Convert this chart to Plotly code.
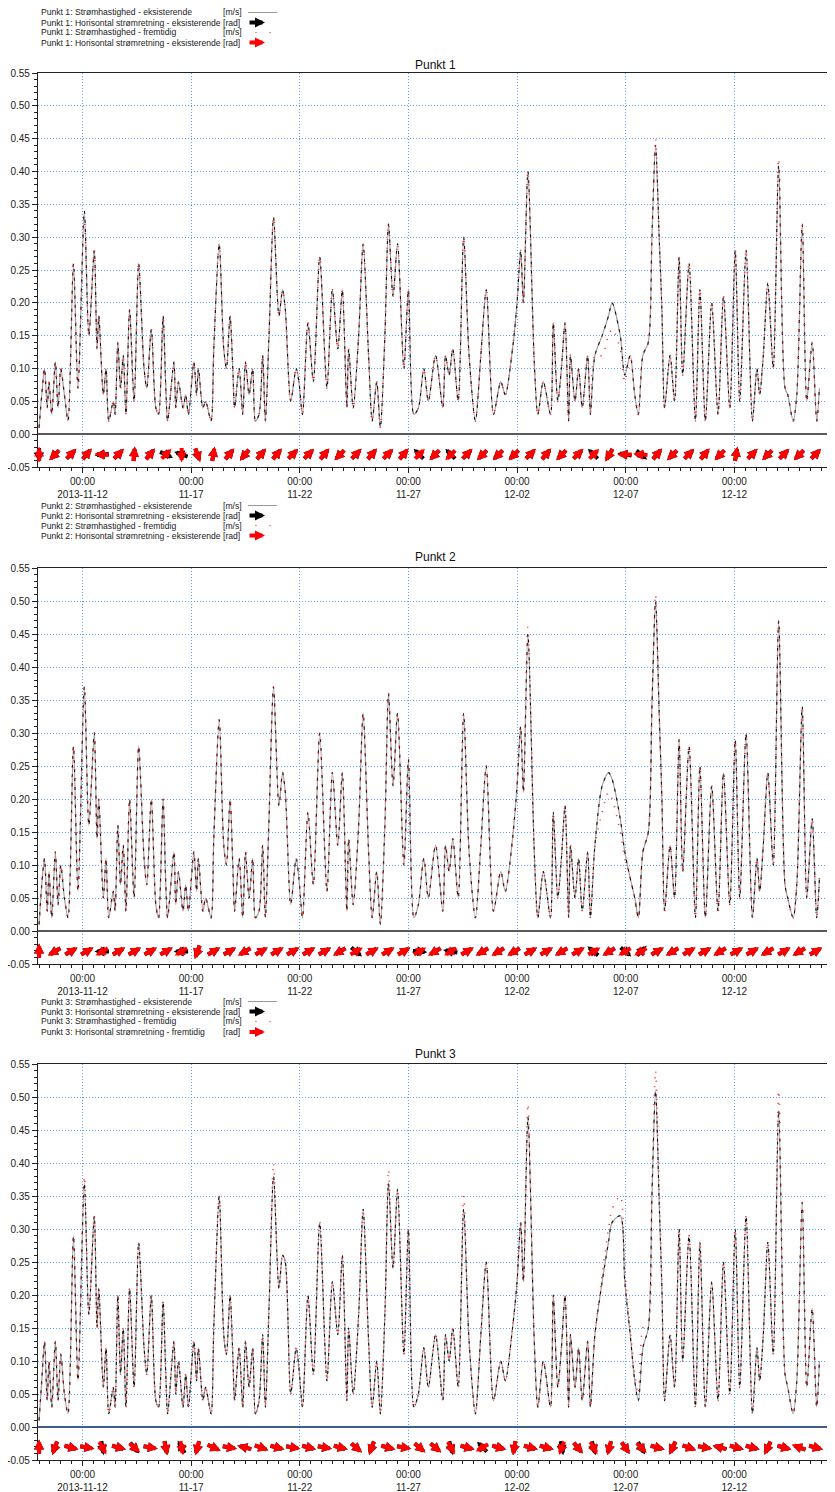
import math
import pandas as pd
import plotly.graph_objects as go

START = pd.Timestamp("2013-11-10 00:00")

# tid i timer fra 2013-11-10 00:00 (felles for alle punkter)
timer = [0, 3, 6, 9, 11, 14, 18, 21, 24, 28,
         32, 38, 43, 50, 55, 61, 64, 66, 71, 74,
         77, 82, 84, 87, 90, 93, 96, 100, 105, 110,
         116, 119, 124, 129, 132, 137, 140, 142, 149, 151,
         154, 159, 162, 165, 171, 174, 176, 181, 184, 190,
         193, 199, 204, 207, 211, 214, 216, 221, 225, 228,
         232, 236, 239, 243, 247, 250, 254, 259, 265, 269,
         272, 278, 284, 287, 291, 297, 303, 310, 318, 324,
         330, 335, 340, 342, 347, 353, 358, 364, 368, 373,
         377, 382, 386, 391, 396, 403, 408, 414, 419, 425,
         430, 438, 446, 449, 453, 457, 463, 469, 475, 482,
         488, 494, 502, 510, 515, 523, 528, 532, 535, 540,
         547, 551, 557, 565, 568, 573, 577, 581, 585, 587,
         592, 596, 600, 606, 609, 614, 622, 629, 633, 642,
         647, 653, 658, 662, 667, 673, 677, 681, 685, 688,
         691, 697, 702, 707, 711, 718, 725, 730, 736, 743,
         750, 756, 763, 769, 774, 781, 788, 793, 796, 800,
         805, 811, 817, 824, 827, 833, 837, 843, 848, 854,
         859, 862]

# Punkt 1
fart1 = [0.01, 0.06, 0.10, 0.04, 0.08, 0.03, 0.11, 0.04, 0.10, 0.06,
         0.02, 0.26, 0.07, 0.34, 0.15, 0.28, 0.13, 0.18, 0.06, 0.10,
         0.02, 0.05, 0.03, 0.14, 0.07, 0.12, 0.03, 0.19, 0.05, 0.26,
         0.10, 0.07, 0.16, 0.04, 0.03, 0.18, 0.07, 0.02, 0.11, 0.04,
         0.08, 0.04, 0.06, 0.03, 0.11, 0.06, 0.10, 0.04, 0.05, 0.02,
         0.13, 0.29, 0.13, 0.10, 0.18, 0.10, 0.04, 0.10, 0.03, 0.11,
         0.06, 0.10, 0.02, 0.03, 0.12, 0.02, 0.15, 0.33, 0.18, 0.22,
         0.19, 0.05, 0.10, 0.08, 0.03, 0.17, 0.08, 0.27, 0.07, 0.22,
         0.13, 0.22, 0.04, 0.13, 0.04, 0.15, 0.29, 0.12, 0.02, 0.08,
         0.01, 0.15, 0.32, 0.21, 0.29, 0.10, 0.22, 0.03, 0.04, 0.10,
         0.05, 0.12, 0.04, 0.12, 0.09, 0.13, 0.05, 0.30, 0.12, 0.02,
         0.12, 0.22, 0.03, 0.08, 0.06, 0.13, 0.20, 0.28, 0.20, 0.40,
         0.11, 0.03, 0.08, 0.03, 0.17, 0.05, 0.10, 0.17, 0.02, 0.12,
         0.05, 0.10, 0.04, 0.12, 0.03, 0.12, 0.15, 0.18, 0.20, 0.15,
         0.09, 0.12, 0.06, 0.03, 0.12, 0.14, 0.30, 0.44, 0.30, 0.19,
         0.04, 0.12, 0.05, 0.27, 0.09, 0.26, 0.02, 0.22, 0.02, 0.20,
         0.03, 0.21, 0.04, 0.28, 0.05, 0.28, 0.02, 0.10, 0.06, 0.12,
         0.23, 0.10, 0.41, 0.07, 0.06, 0.02, 0.06, 0.32, 0.05, 0.14,
         0.02, 0.07]
frem1 = [0.01, 0.06, 0.10, 0.04, 0.08, 0.03, 0.11, 0.04, 0.10, 0.06,
         0.02, 0.26, 0.07, 0.33, 0.15, 0.28, 0.13, 0.18, 0.06, 0.10,
         0.02, 0.05, 0.03, 0.14, 0.07, 0.12, 0.03, 0.19, 0.05, 0.26,
         0.10, 0.07, 0.16, 0.04, 0.03, 0.18, 0.07, 0.02, 0.11, 0.04,
         0.08, 0.04, 0.06, 0.03, 0.11, 0.06, 0.10, 0.04, 0.05, 0.02,
         0.13, 0.29, 0.13, 0.10, 0.18, 0.10, 0.04, 0.10, 0.03, 0.11,
         0.06, 0.10, 0.02, 0.03, 0.12, 0.02, 0.15, 0.33, 0.18, 0.22,
         0.19, 0.05, 0.10, 0.08, 0.03, 0.17, 0.08, 0.27, 0.07, 0.22,
         0.13, 0.22, 0.04, 0.13, 0.04, 0.15, 0.29, 0.12, 0.02, 0.08,
         0.01, 0.15, 0.32, 0.21, 0.29, 0.10, 0.22, 0.03, 0.04, 0.10,
         0.05, 0.12, 0.04, 0.12, 0.09, 0.13, 0.05, 0.30, 0.12, 0.02,
         0.12, 0.22, 0.03, 0.08, 0.06, 0.13, 0.20, 0.28, 0.20, 0.40,
         0.11, 0.03, 0.08, 0.03, 0.17, 0.05, 0.10, 0.17, 0.02, 0.12,
         0.05, 0.10, 0.04, 0.12, 0.03, 0.12, 0.12, 0.15, 0.16, 0.13,
         0.08, 0.12, 0.06, 0.03, 0.12, 0.14, 0.30, 0.45, 0.30, 0.19,
         0.04, 0.12, 0.05, 0.27, 0.09, 0.26, 0.02, 0.22, 0.02, 0.20,
         0.03, 0.21, 0.04, 0.28, 0.05, 0.28, 0.02, 0.10, 0.06, 0.12,
         0.23, 0.10, 0.42, 0.07, 0.06, 0.02, 0.06, 0.32, 0.05, 0.14,
         0.02, 0.07]

# Punkt 2
fart2 = [0.01, 0.07, 0.11, 0.03, 0.09, 0.02, 0.12, 0.04, 0.10, 0.05,
         0.02, 0.28, 0.06, 0.37, 0.16, 0.30, 0.14, 0.20, 0.05, 0.11,
         0.02, 0.06, 0.03, 0.16, 0.07, 0.13, 0.03, 0.20, 0.05, 0.28,
         0.11, 0.07, 0.20, 0.04, 0.02, 0.20, 0.07, 0.02, 0.12, 0.04,
         0.09, 0.03, 0.07, 0.03, 0.12, 0.06, 0.11, 0.03, 0.05, 0.02,
         0.14, 0.32, 0.13, 0.10, 0.20, 0.10, 0.03, 0.11, 0.02, 0.12,
         0.05, 0.11, 0.02, 0.03, 0.13, 0.02, 0.17, 0.37, 0.19, 0.24,
         0.21, 0.04, 0.11, 0.08, 0.02, 0.18, 0.07, 0.30, 0.06, 0.24,
         0.13, 0.24, 0.03, 0.14, 0.04, 0.16, 0.33, 0.12, 0.02, 0.09,
         0.01, 0.16, 0.36, 0.22, 0.33, 0.10, 0.26, 0.02, 0.04, 0.11,
         0.05, 0.13, 0.03, 0.13, 0.09, 0.14, 0.05, 0.33, 0.12, 0.02,
         0.13, 0.25, 0.03, 0.09, 0.06, 0.14, 0.22, 0.31, 0.21, 0.45,
         0.12, 0.02, 0.09, 0.02, 0.18, 0.05, 0.11, 0.19, 0.02, 0.13,
         0.05, 0.11, 0.03, 0.12, 0.02, 0.13, 0.22, 0.24, 0.23, 0.17,
         0.12, 0.08, 0.05, 0.02, 0.12, 0.15, 0.34, 0.50, 0.33, 0.20,
         0.03, 0.13, 0.05, 0.29, 0.09, 0.28, 0.02, 0.25, 0.02, 0.22,
         0.03, 0.24, 0.04, 0.29, 0.05, 0.30, 0.02, 0.11, 0.06, 0.13,
         0.24, 0.10, 0.47, 0.07, 0.05, 0.02, 0.07, 0.34, 0.05, 0.17,
         0.02, 0.08]
frem2 = [0.01, 0.07, 0.11, 0.03, 0.09, 0.02, 0.12, 0.04, 0.10, 0.05,
         0.02, 0.28, 0.06, 0.37, 0.16, 0.30, 0.14, 0.20, 0.05, 0.11,
         0.02, 0.06, 0.03, 0.16, 0.07, 0.13, 0.03, 0.20, 0.05, 0.28,
         0.11, 0.07, 0.20, 0.04, 0.02, 0.20, 0.07, 0.02, 0.12, 0.04,
         0.09, 0.03, 0.07, 0.03, 0.12, 0.06, 0.11, 0.03, 0.05, 0.02,
         0.14, 0.32, 0.13, 0.10, 0.20, 0.10, 0.03, 0.11, 0.02, 0.12,
         0.05, 0.11, 0.02, 0.03, 0.13, 0.02, 0.17, 0.37, 0.19, 0.24,
         0.21, 0.04, 0.11, 0.08, 0.02, 0.18, 0.07, 0.30, 0.06, 0.24,
         0.13, 0.24, 0.03, 0.14, 0.04, 0.16, 0.33, 0.12, 0.02, 0.09,
         0.01, 0.16, 0.36, 0.22, 0.33, 0.10, 0.26, 0.02, 0.04, 0.11,
         0.05, 0.13, 0.03, 0.13, 0.09, 0.14, 0.05, 0.33, 0.12, 0.02,
         0.13, 0.25, 0.03, 0.09, 0.06, 0.14, 0.22, 0.31, 0.21, 0.46,
         0.12, 0.02, 0.09, 0.02, 0.18, 0.05, 0.11, 0.19, 0.02, 0.13,
         0.05, 0.11, 0.03, 0.12, 0.02, 0.13, 0.18, 0.21, 0.20, 0.15,
         0.11, 0.08, 0.05, 0.02, 0.12, 0.15, 0.34, 0.51, 0.33, 0.20,
         0.03, 0.13, 0.05, 0.29, 0.09, 0.28, 0.02, 0.25, 0.02, 0.22,
         0.03, 0.24, 0.04, 0.29, 0.05, 0.30, 0.02, 0.11, 0.06, 0.13,
         0.24, 0.10, 0.47, 0.07, 0.05, 0.02, 0.07, 0.34, 0.05, 0.17,
         0.02, 0.08]

# Punkt 3
fart3 = [0.01, 0.07, 0.13, 0.04, 0.10, 0.03, 0.13, 0.04, 0.11, 0.05,
         0.02, 0.29, 0.07, 0.37, 0.17, 0.32, 0.15, 0.21, 0.06, 0.12,
         0.02, 0.06, 0.03, 0.20, 0.08, 0.15, 0.03, 0.21, 0.06, 0.28,
         0.12, 0.08, 0.20, 0.04, 0.03, 0.19, 0.08, 0.02, 0.13, 0.05,
         0.10, 0.03, 0.08, 0.03, 0.13, 0.07, 0.12, 0.04, 0.06, 0.02,
         0.15, 0.35, 0.14, 0.11, 0.20, 0.11, 0.04, 0.12, 0.03, 0.13,
         0.06, 0.12, 0.02, 0.04, 0.14, 0.03, 0.18, 0.38, 0.21, 0.26,
         0.25, 0.05, 0.12, 0.09, 0.03, 0.20, 0.08, 0.31, 0.07, 0.22,
         0.14, 0.26, 0.04, 0.15, 0.05, 0.17, 0.33, 0.13, 0.03, 0.10,
         0.02, 0.17, 0.37, 0.24, 0.36, 0.11, 0.30, 0.03, 0.05, 0.12,
         0.06, 0.14, 0.04, 0.14, 0.10, 0.15, 0.06, 0.33, 0.13, 0.02,
         0.14, 0.25, 0.04, 0.10, 0.07, 0.15, 0.22, 0.31, 0.22, 0.47,
         0.13, 0.03, 0.10, 0.03, 0.20, 0.06, 0.12, 0.20, 0.03, 0.14,
         0.06, 0.12, 0.04, 0.13, 0.03, 0.14, 0.22, 0.28, 0.31, 0.32,
         0.22, 0.14, 0.07, 0.04, 0.12, 0.15, 0.35, 0.51, 0.34, 0.21,
         0.04, 0.14, 0.06, 0.30, 0.10, 0.29, 0.03, 0.28, 0.03, 0.22,
         0.04, 0.25, 0.05, 0.30, 0.06, 0.32, 0.02, 0.12, 0.07, 0.14,
         0.28, 0.11, 0.48, 0.08, 0.06, 0.02, 0.07, 0.34, 0.06, 0.18,
         0.03, 0.10]
frem3 = [0.01, 0.07, 0.13, 0.04, 0.10, 0.03, 0.13, 0.04, 0.11, 0.05,
         0.02, 0.29, 0.07, 0.38, 0.17, 0.32, 0.15, 0.21, 0.06, 0.12,
         0.02, 0.06, 0.03, 0.20, 0.08, 0.15, 0.03, 0.21, 0.06, 0.28,
         0.12, 0.08, 0.20, 0.04, 0.03, 0.19, 0.08, 0.02, 0.13, 0.05,
         0.10, 0.03, 0.08, 0.03, 0.13, 0.07, 0.12, 0.04, 0.06, 0.02,
         0.15, 0.35, 0.14, 0.11, 0.20, 0.11, 0.04, 0.12, 0.03, 0.13,
         0.06, 0.12, 0.02, 0.04, 0.14, 0.03, 0.18, 0.40, 0.21, 0.26,
         0.25, 0.05, 0.12, 0.09, 0.03, 0.20, 0.08, 0.31, 0.07, 0.22,
         0.14, 0.26, 0.04, 0.15, 0.05, 0.17, 0.33, 0.13, 0.03, 0.10,
         0.02, 0.17, 0.39, 0.24, 0.36, 0.11, 0.30, 0.03, 0.05, 0.12,
         0.06, 0.14, 0.04, 0.14, 0.10, 0.15, 0.06, 0.35, 0.13, 0.02,
         0.14, 0.25, 0.04, 0.10, 0.07, 0.15, 0.22, 0.31, 0.22, 0.49,
         0.13, 0.03, 0.10, 0.03, 0.20, 0.06, 0.12, 0.20, 0.03, 0.14,
         0.06, 0.12, 0.04, 0.13, 0.03, 0.14, 0.23, 0.30, 0.33, 0.35,
         0.24, 0.15, 0.08, 0.05, 0.15, 0.16, 0.37, 0.54, 0.36, 0.22,
         0.04, 0.14, 0.06, 0.30, 0.10, 0.29, 0.03, 0.28, 0.03, 0.22,
         0.04, 0.25, 0.05, 0.30, 0.06, 0.32, 0.02, 0.12, 0.07, 0.14,
         0.28, 0.11, 0.51, 0.08, 0.06, 0.02, 0.07, 0.34, 0.06, 0.18,
         0.03, 0.10]

# strømretning for pilene (grader, 0 = nord, med klokka), en pil per 17.5 time
retning1_eks = [180, 225, 45, 40, 265, 45, 5, 40, 115, 290,
                160, 10, 40, 220, 40, 40, 45, 45, 40, 225,
                45, 40, 45, 40, 315, 225, 315, 45, 225, 225,
                225, 45, 40, 225, 45, 315, 210, 280, 130, 40,
                225, 45, 40, 225, 10, 45, 225, 45, 225, 45]
retning1_frem = [0, 225, 45, 40, 275, 45, 5, 40, 45, 180,
                 160, 10, 40, 220, 40, 40, 45, 45, 40, 225,
                 45, 40, 45, 40, 45, 225, 225, 45, 225, 225,
                 225, 45, 40, 225, 45, 45, 210, 270, 275, 40,
                 225, 45, 40, 225, 10, 45, 225, 45, 225, 45]
retning2_eks = [0, 240, 60, 60, 270, 60, 60, 60, 60, 270,
                200, 60, 60, 240, 60, 60, 60, 60, 60, 240,
                130, 60, 60, 60, 95, 240, 280, 60, 240, 240,
                240, 60, 60, 240, 60, 310, 240, 130, 45, 60,
                240, 60, 60, 240, 60, 60, 240, 60, 240, 60]
retning2_frem = [0, 240, 60, 60, 240, 60, 60, 60, 60, 240,
                 200, 60, 60, 240, 60, 60, 60, 60, 60, 240,
                 60, 60, 60, 60, 60, 240, 240, 60, 240, 240,
                 240, 60, 60, 240, 60, 60, 240, 240, 240, 60,
                 240, 60, 60, 240, 60, 60, 240, 60, 240, 60]
retning3_eks = [0, 200, 105, 100, 170, 105, 140, 100, 170, 330,
                195, 115, 100, 285, 110, 105, 100, 105, 100, 105,
                130, 200, 105, 100, 130, 130, 165, 105, 315, 105,
                190, 105, 105, 170, 140, 165, 195, 145, 150, 105,
                205, 110, 100, 285, 105, 105, 205, 105, 290, 105]
retning3_frem = [0, 200, 105, 100, 150, 105, 130, 100, 165, 170,
                 195, 115, 100, 285, 110, 105, 100, 105, 100, 105,
                 130, 200, 105, 100, 130, 130, 150, 105, 240, 105,
                 190, 105, 105, 200, 140, 150, 195, 145, 135, 105,
                 205, 110, 100, 285, 105, 105, 205, 105, 290, 105]

tick_datoer = ["2013-11-12", "2013-11-17", "2013-11-22", "2013-11-27",
               "2013-12-02", "2013-12-07", "2013-12-12"]
tick_tekst = ["00:00<br>2013-11-12", "00:00<br>11-17", "00:00<br>11-22",
              "00:00<br>11-27", "00:00<br>12-02", "00:00<br>12-07",
              "00:00<br>12-12"]
y_ticks = [-0.05, 0.00, 0.05, 0.10, 0.15, 0.20, 0.25, 0.30,
           0.35, 0.40, 0.45, 0.50, 0.55]
y_tekst = ["-0.05", "0.00", "0.05", "0.10", "0.15", "0.20", "0.25", "0.30",
           "0.35", "0.40", "0.45", "0.50", "0.55"]

legende = {
    1: ["Punkt 1: Strømhastighed - eksisterende",
        "Punkt 1: Horisontal strømretning - eksisterende",
        "Punkt 1: Strømhastighed - fremtidig",
        "Punkt 1: Horisontal strømretning - eksisterende"],
    2: ["Punkt 2: Strømhastighed - eksisterende",
        "Punkt 2: Horisontal strømretning - eksisterende",
        "Punkt 2: Strømhastighed - fremtidig",
        "Punkt 2: Horisontal strømretning - eksisterende"],
    3: ["Punkt 3: Strømhastighed - eksisterende",
        "Punkt 3: Horisontal strømretning - eksisterende",
        "Punkt 3: Strømhastighed - fremtidig",
        "Punkt 3: Horisontal strømretning - fremtidig"],
}
enheter = ["[m/s]", "[rad]", "[m/s]", "[rad]"]

for serie in (fart1, frem1, fart2, frem2, fart3, frem3):
    assert len(serie) == len(timer)

# siden har 8 px kant rundt figuren, så figuren gjøres 8 px mindre
KANT = 8
W, H = 835 - KANT, 1492 - KANT
L_MARG, R_MARG = 38 - KANT, 2
FONT = "Liberation Sans, Arial, sans-serif"
GRID = "#5da2ec"


def py(pix):
    # pikselrad i det ferdige bildet -> papirkoordinat
    return 1 - (pix - KANT) / H


def px(pix):
    # pikselkolonne i det ferdige bildet -> papirkoordinat
    return (pix - KANT - L_MARG) / (W - L_MARG - R_MARG)


tider = START + pd.to_timedelta(timer, unit="h")
pil_tider = pd.date_range(START, periods=50, freq="1050min")

# pikselposisjoner for hvert panel: (topp, bunn, tittel, legende-linjer, nullinje-farge)
paneler = [
    (73, 467, 65, [12.5, 22.5, 32.5, 42.5], "#5a5a5a"),
    (568, 964, 557, [505.5, 515.5, 525.5, 535.5], "#5a5a5a"),
    (1064, 1460, 1054, [1001.5, 1011.5, 1021.5, 1032], "#3c5f8c"),
]
data = [(fart1, frem1, retning1_eks, retning1_frem),
        (fart2, frem2, retning2_eks, retning2_frem),
        (fart3, frem3, retning3_eks, retning3_frem)]

fig = go.Figure()
annotations = []
shapes = []


def pil(xref, yref, t, grader, farge):
    lengde = 16
    s = math.sin(math.radians(grader))
    c = math.cos(math.radians(grader))
    return dict(x=t, y=-0.031, xref=xref, yref=yref, text="", showarrow=True,
                arrowhead=2, arrowsize=0.5, arrowwidth=4, arrowcolor=farge,
                ax=-lengde * s, ay=lengde * c,
                xshift=lengde / 2 * s, yshift=lengde / 2 * c, standoff=0)


for i, ((topp, bunn, tittel_y, leg_y, nullfarge), (fart, frem, r_eks, r_frem)) in enumerate(zip(paneler, data)):
    n = i + 1
    xa = "x" if n == 1 else f"x{n}"
    ya = "y" if n == 1 else f"y{n}"

    fig.add_trace(go.Scatter(
        x=tider, y=fart, mode="lines", xaxis=xa, yaxis=ya, showlegend=False,
        line=dict(color="#a0a0a0", width=1.2, shape="spline", smoothing=0.8)))
    fig.add_trace(go.Scatter(
        x=tider, y=fart, mode="lines", xaxis=xa, yaxis=ya, showlegend=False,
        line=dict(color="#111111", width=1.1, shape="spline", smoothing=0.8,
                  dash="3px,6px")))
    fig.add_trace(go.Scatter(
        x=tider, y=frem, mode="lines", xaxis=xa, yaxis=ya, showlegend=False,
        line=dict(color="#ff2020", width=1.6, shape="spline", smoothing=0.8,
                  dash="1px,8px")))

    for t, g in zip(pil_tider, r_eks):
        annotations.append(pil(xa, ya, t, g, "black"))
    for t, g in zip(pil_tider, r_frem):
        annotations.append(pil(xa, ya, t, g, "#ff0000"))

    # aksene
    ax_name = "xaxis" if n == 1 else f"xaxis{n}"
    ay_name = "yaxis" if n == 1 else f"yaxis{n}"
    fig.update_layout({
        ax_name: dict(
            domain=[0, 1], anchor=ya, type="date", automargin=False,
            range=["2013-11-09 22:50", "2013-12-16 13:00"],
            tickmode="array", tickvals=tick_datoer, ticktext=tick_tekst,
            ticks="outside", ticklen=5, tickcolor="#222",
            minor=dict(dtick=12 * 3600 * 1000, ticks="outside", ticklen=3,
                       tickcolor="#222", showgrid=False),
            showgrid=True, gridcolor=GRID, griddash="1px,2px", gridwidth=1,
            showline=True, linecolor="#222", linewidth=1.3, mirror=True,
            tickfont=dict(family=FONT, size=10, color="#222"),
            zeroline=False,
        ),
        ay_name: dict(
            domain=[py(bunn), py(topp)], anchor=xa, automargin=False,
            range=[-0.05, 0.55],
            tickmode="array", tickvals=y_ticks, ticktext=y_tekst,
            ticks="outside", ticklen=5, tickcolor="#222",
            minor=dict(tickmode="linear", tick0=0, dtick=0.01, ticks="outside",
                       ticklen=3, tickcolor="#222", showgrid=False),
            showgrid=True, gridcolor=GRID, griddash="1px,2px", gridwidth=1,
            zeroline=True, zerolinecolor=nullfarge, zerolinewidth=1.5,
            showline=True, linecolor="#222", linewidth=1.3, mirror=True,
            tickfont=dict(family=FONT, size=10, color="#222"),
        ),
    })

    # tittel
    annotations.append(dict(
        x=px(435.5), y=py(tittel_y), xref="paper", yref="paper", text=f"Punkt {n}",
        showarrow=False, xanchor="center", yanchor="middle",
        font=dict(family=FONT, size=12, color="#111")))

    # legende
    for tekst, enhet, yy in zip(legende[n], enheter, leg_y):
        annotations.append(dict(
            x=px(39), y=py(yy), xref="paper", yref="paper", text=tekst,
            showarrow=False, xanchor="left", yanchor="middle",
            font=dict(family=FONT, size=8.6, color="#222")))
        annotations.append(dict(
            x=px(221), y=py(yy), xref="paper", yref="paper", text=enhet,
            showarrow=False, xanchor="left", yanchor="middle",
            font=dict(family=FONT, size=8.6, color="#222")))
    shapes.append(dict(type="line", xref="paper", yref="paper",
                       x0=px(248), x1=px(277), y0=py(leg_y[0]), y1=py(leg_y[0]),
                       line=dict(color="#9a9a9a", width=1)))
    for farge, yy in (("black", leg_y[1]), ("#ff0000", leg_y[3])):
        annotations.append(dict(
            x=px(265), y=py(yy), xref="paper", yref="paper", text="",
            showarrow=True, arrowhead=2, arrowsize=0.5, arrowwidth=4,
            arrowcolor=farge, ax=-17, ay=0, standoff=0))
    for xx in (256, 270):
        shapes.append(dict(type="circle", xref="paper", yref="paper",
                           x0=px(xx - 0.7), x1=px(xx + 0.7),
                           y0=py(leg_y[2] + 0.7), y1=py(leg_y[2] - 0.7),
                           fillcolor="#ff4040", line=dict(width=0)))

fig.update_layout(
    width=W, height=H,
    margin=dict(l=L_MARG, r=R_MARG, t=0, b=0, pad=0, autoexpand=False),
    paper_bgcolor="white", plot_bgcolor="white",
    showlegend=False,
    annotations=annotations,
    shapes=shapes,
    font=dict(family=FONT, size=10, color="#222"),
)

fig.write_html("out.html")
